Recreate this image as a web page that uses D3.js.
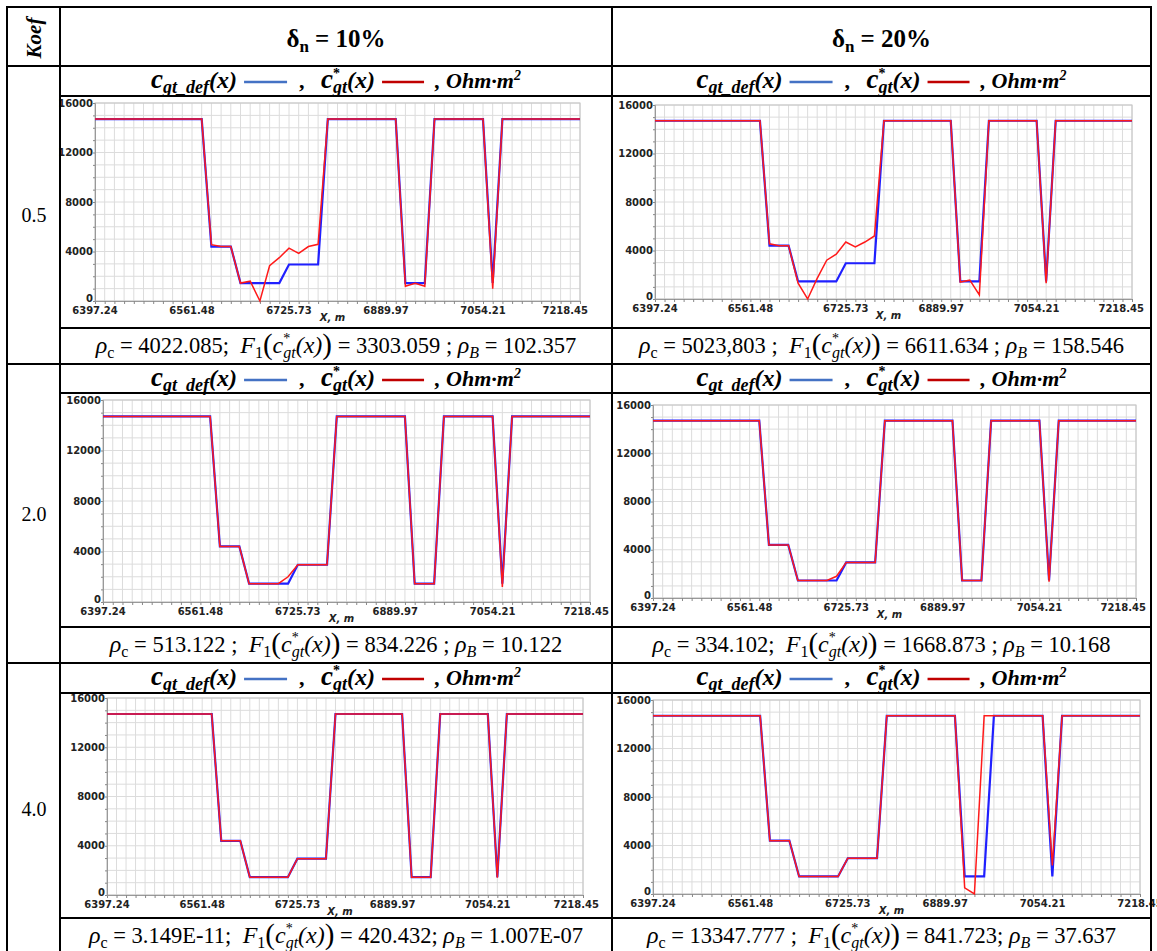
<!DOCTYPE html>
<html>
<head>
<meta charset="utf-8">
<script src="https://cdn.jsdelivr.net/npm/d3@7"></script>
<style>
  body { margin: 0; background: #fff; }
  svg { display: block; }
</style>
</head>
<body>
<div id="chart"></div>
<script>

// sample positions along the profile, m
const xPos = [6397.24, 6413.66, 6430.09, 6446.51, 6462.94, 6479.36, 6495.79, 6512.21, 6528.63, 6545.06,
              6561.48, 6577.91, 6594.33, 6610.75, 6627.18, 6643.60, 6660.03, 6676.45, 6692.88, 6709.30,
              6725.73, 6742.15, 6758.57, 6775.00, 6791.42, 6807.85, 6824.27, 6840.69, 6857.12, 6873.54,
              6889.97, 6906.39, 6922.81, 6939.24, 6955.66, 6972.09, 6988.51, 7004.94, 7021.36, 7037.78,
              7054.21, 7070.63, 7087.06, 7103.48, 7119.91, 7136.33, 7152.75, 7169.18, 7185.60, 7202.03,
              7218.45];

// c_gt_def(x) - the given profile (blue)
const cDef = [14700, 14700, 14700, 14700, 14700, 14700, 14700, 14700, 14700, 14700,
              14700, 14700, 4400, 4400, 4400, 1450, 1450, 1450, 1450, 1450,
              2950, 2950, 2950, 2950, 14700, 14700, 14700, 14700, 14700, 14700,
              14700, 14700, 1450, 1450, 1450, 14700, 14700, 14700, 14700, 14700,
              14700, 1450, 14700, 14700, 14700, 14700, 14700, 14700, 14700, 14700,
              14700];

// c*_gt(x) - recovered profiles (red), Koef 0.5 / 2.0 / 4.0, delta 10% / 20%
const cRec05d10 = [14700, 14700, 14700, 14700, 14700, 14700, 14700, 14700, 14700, 14700,
                   14700, 14700, 4550, 4400, 4400, 1450, 1600, 0, 2850, 3500,
                   4270, 3840, 4400, 4580, 14700, 14700, 14700, 14700, 14700, 14700,
                   14700, 14700, 1200, 1440, 1200, 14700, 14700, 14700, 14700, 14700,
                   14700, 1000, 14700, 14700, 14700, 14700, 14700, 14700, 14700, 14700,
                   14700];
const cRec05d20 = [14700, 14700, 14700, 14700, 14700, 14700, 14700, 14700, 14700, 14700,
                   14700, 14700, 4550, 4400, 4400, 1300, 0, 1700, 3200, 3700,
                   4700, 4300, 4700, 5200, 14700, 14700, 14700, 14700, 14700, 14700,
                   14700, 14700, 1400, 1550, 330, 14700, 14700, 14700, 14700, 14700,
                   14700, 1300, 14700, 14700, 14700, 14700, 14700, 14700, 14700, 14700,
                   14700];
const cRec20d10 = [14700, 14700, 14700, 14700, 14700, 14700, 14700, 14700, 14700, 14700,
                   14700, 14700, 4400, 4400, 4400, 1450, 1450, 1450, 1450, 2000,
                   2950, 2950, 2950, 2950, 14700, 14700, 14700, 14700, 14700, 14700,
                   14700, 14700, 1450, 1450, 1450, 14700, 14700, 14700, 14700, 14700,
                   14700, 1200, 14700, 14700, 14700, 14700, 14700, 14700, 14700, 14700,
                   14700];
const cRec20d20 = [14700, 14700, 14700, 14700, 14700, 14700, 14700, 14700, 14700, 14700,
                   14700, 14700, 4400, 4400, 4400, 1450, 1450, 1450, 1450, 1800,
                   2950, 2950, 2950, 2950, 14700, 14700, 14700, 14700, 14700, 14700,
                   14700, 14700, 1450, 1450, 1450, 14700, 14700, 14700, 14700, 14700,
                   14700, 1350, 14700, 14700, 14700, 14700, 14700, 14700, 14700, 14700,
                   14700];
const cRec40d10 = [14700, 14700, 14700, 14700, 14700, 14700, 14700, 14700, 14700, 14700,
                   14700, 14700, 4400, 4400, 4400, 1450, 1450, 1450, 1450, 1450,
                   2950, 2950, 2950, 2950, 14700, 14700, 14700, 14700, 14700, 14700,
                   14700, 14700, 1450, 1450, 1450, 14700, 14700, 14700, 14700, 14700,
                   14700, 1400, 14700, 14700, 14700, 14700, 14700, 14700, 14700, 14700,
                   14700];
const cRec40d20 = [14700, 14700, 14700, 14700, 14700, 14700, 14700, 14700, 14700, 14700,
                   14700, 14700, 4400, 4400, 4400, 1450, 1450, 1450, 1450, 1450,
                   2950, 2950, 2950, 2950, 14700, 14700, 14700, 14700, 14700, 14700,
                   14700, 14700, 500, 0, 14700, 14700, 14700, 14700, 14700, 14700,
                   14700, 2350, 14700, 14700, 14700, 14700, 14700, 14700, 14700, 14700,
                   14700];

const koefs = ["0.5", "2.0", "4.0"];
const deltas = ["10%", "20%"];
const recovered = [[cRec05d10, cRec05d20], [cRec20d10, cRec20d20], [cRec40d10, cRec40d20]];
const rhoC = [["4022.085;", "5023,803 ;"], ["513.122 ;", "334.102;"], ["3.149E-11;", "13347.777 ;"]];
const f1Val = [["3303.059 ;", "6611.634 ;"], ["834.226 ;", "1668.873 ;"], ["420.432;", "841.723;"]];
const rhoB = [["102.357", "158.546"], ["10.122", "10.168"], ["1.007E-07", "37.637"]];

const xTicks = [6397.24, 6561.48, 6725.73, 6889.97, 7054.21, 7218.45];
const yTicks = [0, 4000, 8000, 12000, 16000];

// ---- layout ----
const W = 1157, H = 951;
const serif = "'Liberation Serif', 'Times New Roman', serif";
const sans = "'DejaVu Sans', Verdana, sans-serif";
const colX = [7, 60, 612, 1151];
const groups = [
  { top: 66, chart: 96, formula: 328, bottom: 364 },
  { top: 364, chart: 393, formula: 627, bottom: 663 },
  { top: 663, chart: 693, formula: 918, bottom: 954 }
];
// plot boxes; lastEnd = where the last x label must end (null: centred)
const plots = [
  [{ l: 95, r: 580, t: 103, b: 301, lastEnd: 588 }, { l: 655, r: 1132, t: 105, b: 299, lastEnd: 1144 }],
  [{ l: 103, r: 590, t: 400, b: 602, lastEnd: 609 }, { l: 653, r: 1136, t: 405, b: 598, lastEnd: 1146 }],
  [{ l: 107, r: 583, t: 698, b: 895, lastEnd: 599 }, { l: 653, r: 1140, t: 700, b: 894, lastEnd: null }]
];

const svg = d3.select("#chart").append("svg")
  .attr("width", W).attr("height", H);

// rich text helper: runs laid out one after another (measured), then written
// as tspans of a single centred text element; "line" runs are legend swatches
function rich(parent, runs, cx, y) {
  const grp = parent.append("g");
  const meas = grp.append("text").style("white-space", "pre");
  let cur = 0, lastStart = 0;
  const placed = [];
  runs.forEach(r => {
    if (r.line) {
      placed.push({ line: r, x: cur + r.pre });
      cur += r.pre + r.w + r.post;
      return;
    }
    const start = r.stack ? lastStart : cur;
    meas.attr("font-family", serif).attr("font-size", r.size)
      .attr("font-style", r.it ? "italic" : "normal")
      .attr("font-weight", r.b ? "bold" : "normal")
      .text(r.t);
    const w = meas.node().getComputedTextLength();
    placed.push({ run: r, x: start });
    if (r.stack) {
      cur = Math.max(cur, start + w);
    } else {
      lastStart = start;
      cur = start + w;
    }
  });
  meas.remove();
  const x0 = cx - cur / 2;
  const txt = grp.append("text").attr("font-family", serif).style("white-space", "pre");
  placed.forEach(p => {
    if (p.line) {
      grp.append("line")
        .attr("x1", x0 + p.x).attr("x2", x0 + p.x + p.line.w)
        .attr("y1", y + p.line.dy).attr("y2", y + p.line.dy)
        .attr("stroke", p.line.line).attr("stroke-width", 2.4);
    } else {
      const r = p.run;
      txt.append("tspan")
        .attr("x", x0 + p.x).attr("y", y + (r.dy || 0))
        .attr("font-size", r.size)
        .attr("font-style", r.it ? "italic" : "normal")
        .attr("font-weight", r.b ? "bold" : "normal")
        .text(r.t);
    }
  });
}

// ---- body (charts first, frame drawn over them) ----
groups.forEach((g, i) => {
  svg.append("text")
    .attr("x", 34).attr("y", (g.top + g.bottom) / 2 + 7)
    .attr("text-anchor", "middle")
    .attr("font-family", serif).attr("font-size", 20)
    .text(koefs[i]);

  deltas.forEach((d, j) => {
    const cx = (colX[j + 1] + colX[j + 2]) / 2;

    drawPlot(plots[i][j], recovered[i][j]);

    // legend row
    rich(svg, [
      { t: "c", size: 27, b: true, it: true },
      { t: "gt_def", size: 18, b: true, it: true, dy: 5 },
      { t: "(x)", size: 24, b: true, it: true },
      { line: "#4472c4", w: 43, pre: 7, post: 12, dy: -6 },
      { t: ",\u00a0\u00a0\u00a0", size: 22, b: true },
      { t: "c", size: 27, b: true, it: true },
      { t: "*", size: 14, b: true, dy: -10 },
      { t: "gt", size: 18, b: true, it: true, dy: 5, stack: true },
      { t: "(x)", size: 24, b: true, it: true },
      { line: "#c00000", w: 42, pre: 7, post: 11, dy: -6 },
      { t: ",\u00a0Ohm·m", size: 22, b: true, it: true },
      { t: "2", size: 14, b: true, it: true, dy: -8 }
    ], cx, g.top + 22);

    // formula row
    rich(svg, [
      { t: "ρ", size: 24, it: true },
      { t: "c", size: 16, dy: 5 },
      { t: "\u00a0=\u00a0" + rhoC[i][j] + "\u00a0\u00a0", size: 22.5 },
      { t: "F", size: 24, it: true },
      { t: "1", size: 16, dy: 5 },
      { t: "(", size: 29, dy: 1 },
      { t: "c", size: 24, it: true },
      { t: "*", size: 14, dy: -10 },
      { t: "gt", size: 16, it: true, dy: 5, stack: true },
      { t: "(x)", size: 24, it: true },
      { t: ")", size: 29, dy: 1 },
      { t: "\u00a0=\u00a0" + f1Val[i][j] + "\u00a0", size: 22.5 },
      { t: "ρ", size: 24, it: true },
      { t: "B", size: 16, it: true, dy: 5 },
      { t: "\u00a0=\u00a0" + rhoB[i][j], size: 22.5 }
    ], cx, g.formula + 25);
  });
});

// ---- header ----
svg.append("text")
  .attr("transform", "translate(41,38) rotate(-90)")
  .attr("text-anchor", "middle")
  .attr("font-family", serif).attr("font-size", 21)
  .attr("font-weight", "bold").attr("font-style", "italic")
  .text("Koef");

deltas.forEach((d, j) => {
  const cx = (colX[j + 1] + colX[j + 2]) / 2;
  rich(svg, [
    { t: "δ", size: 25, b: true },
    { t: "n", size: 17, b: true, dy: 5 },
    { t: "\u00a0=\u00a0" + d, size: 25, b: true }
  ], cx, 47);
});

// ---- table frame ----
const frame = svg.append("g").attr("stroke", "#000").attr("stroke-width", 2);
function hline(x1, x2, y) { frame.append("line").attr("x1", x1).attr("x2", x2).attr("y1", y).attr("y2", y); }
function vline(x, y1, y2) { frame.append("line").attr("x1", x).attr("x2", x).attr("y1", y1).attr("y2", y2); }

hline(colX[0] - 1, colX[3] + 1, 7);
hline(colX[0] - 1, colX[3] + 1, 66);
groups.forEach(g => {
  hline(colX[1], colX[3] + 1, g.chart);
  hline(colX[1], colX[3] + 1, g.formula);
  hline(colX[0] - 1, colX[3] + 1, g.bottom);
});
colX.forEach(x => vline(x, 6, H + 5));

function drawPlot(p, rec) {
  const x = d3.scaleLinear().domain([xTicks[0], xTicks[xTicks.length - 1]]).range([p.l, p.r]);
  const y = d3.scaleLinear().domain([0, 16000]).range([p.b, p.t]);
  const g = svg.append("g");

  // grid
  const xStep = (xTicks[xTicks.length - 1] - xTicks[0]) / 50;
  const vGrid = d3.range(51).map(k => xTicks[0] + k * xStep);
  g.append("g").selectAll("line").data(vGrid).join("line")
    .attr("x1", d => x(d)).attr("x2", d => x(d))
    .attr("y1", p.t).attr("y2", p.b)
    .attr("stroke", "#dcdcdc").attr("stroke-width", 1);
  g.append("g").selectAll("line").data(d3.range(0, 16001, 1000)).join("line")
    .attr("x1", p.l).attr("x2", p.r)
    .attr("y1", d => y(d)).attr("y2", d => y(d))
    .attr("stroke", "#dcdcdc").attr("stroke-width", 1);
  g.append("rect")
    .attr("x", p.l).attr("y", p.t).attr("width", p.r - p.l).attr("height", p.b - p.t)
    .attr("fill", "none").attr("stroke", "#c4c4c4");

  // axes
  const xa = g.append("g").attr("transform", `translate(0,${p.b})`)
    .call(d3.axisBottom(x).tickValues(vGrid).tickSize(3).tickFormat(""));
  xa.select(".domain").attr("stroke", "#999");
  xa.selectAll(".tick line").attr("stroke", "#888");
  const ya = g.append("g").attr("transform", `translate(${p.l},0)`)
    .call(d3.axisLeft(y).tickValues(d3.range(0, 16001, 1000)).tickSize(2).tickFormat(""));
  ya.select(".domain").attr("stroke", "#999");
  ya.selectAll(".tick line").attr("stroke", "#888");

  g.append("g").selectAll("text").data(yTicks).join("text")
    .attr("x", p.l - 2).attr("y", d => y(d) - (d === 0 ? 3 : 0)).attr("dy", "0.36em")
    .attr("text-anchor", "end")
    .attr("font-family", sans).attr("font-size", 10).attr("font-weight", "bold")
    .attr("fill", "#222")
    .text(d => d);

  const last = xTicks.length - 1;
  g.append("g").selectAll("text").data(xTicks).join("text")
    .attr("x", (d, k) => k === last && p.lastEnd ? Math.min(p.lastEnd, x(d) + 23) : x(d))
    .attr("y", p.b + 13)
    .attr("text-anchor", (d, k) => k === last && p.lastEnd && x(d) + 23 > p.lastEnd ? "end" : "middle")
    .attr("font-family", sans).attr("font-size", 10).attr("font-weight", "bold")
    .attr("fill", "#222")
    .text(d => d.toFixed(2));

  g.append("text")
    .attr("x", (p.l + p.r) / 2 - 5).attr("y", p.b + 20)
    .attr("text-anchor", "middle")
    .attr("font-family", sans).attr("font-size", 10)
    .attr("font-weight", "bold").attr("font-style", "italic")
    .attr("fill", "#222")
    .text("X, m");

  // series
  const line = d3.line().x((d, k) => x(xPos[k])).y(d => y(d));
  g.append("path").datum(cDef).attr("d", line)
    .attr("fill", "none").attr("stroke", "#2020ff").attr("stroke-width", 2.2);
  g.append("path").datum(rec).attr("d", line)
    .attr("fill", "none").attr("stroke", "#ff1a1a").attr("stroke-width", 1.5);
}
</script>
</body>
</html>
